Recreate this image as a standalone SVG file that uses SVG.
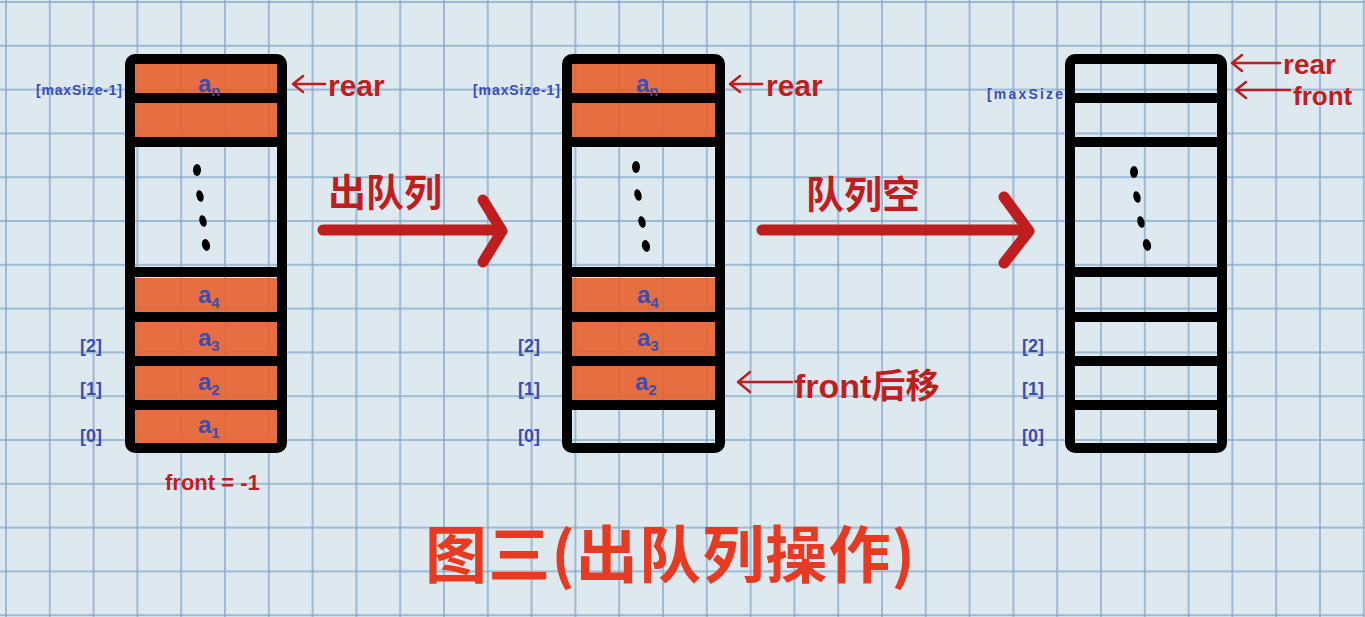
<svg xmlns="http://www.w3.org/2000/svg" width="1365" height="617" viewBox="0 0 1365 617">
<defs>
<pattern id="grid" patternUnits="userSpaceOnUse" x="-15.9" y="-19.9" width="43.8" height="43.8">
<path d="M0 21.9 H43.8 M21.9 0 V43.8" stroke="#88abcb" stroke-width="1.5" fill="none"/>
</pattern>
<style>
.frame{fill:none;stroke:#000;stroke-width:10;stroke-linejoin:round}
.div{stroke:#000;stroke-width:10}
.cell{fill:#e8602d;fill-opacity:0.9}
.dot{fill:#000}
.blue{fill:#3a4db3;font-family:"Liberation Sans",sans-serif;font-weight:bold}
.idx{font-size:18px}
.ms{font-size:14px}
.av{font-size:24px}
.sub{font-size:15px}
.red{fill:#c01d1f;font-family:"Liberation Sans","Noto Sans CJK SC",sans-serif;font-weight:bold}
.rarrow{stroke:#c01d1f;stroke-width:2.5;fill:none;stroke-linecap:round;stroke-linejoin:round}
.big{stroke:#c01d1f;stroke-width:11;fill:none;stroke-linecap:round;stroke-linejoin:round}
.title{fill:#e63b22;font-family:"Noto Sans CJK SC",sans-serif;font-size:62px;font-weight:bold}
</style>
</defs>
<rect width="1365" height="617" fill="#dde8ef"/>
<rect width="1365" height="617" fill="url(#grid)"/>

<g id="queue1">
<rect class="cell" x="135" y="64" width="142" height="29"/>
<rect class="cell" x="135" y="103" width="142" height="34"/>
<rect class="cell" x="135" y="278" width="142" height="34"/>
<rect class="cell" x="135" y="322" width="142" height="34"/>
<rect class="cell" x="135" y="366" width="142" height="34"/>
<rect class="cell" x="135" y="410" width="142" height="33"/>
<rect class="frame" x="130" y="59" width="152" height="389" rx="5"/>
<path class="div" d="M130 98H282M130 142H282M130 272H282M130 317H282M130 361H282M130 405H282"/>
<ellipse class="dot" cx="197" cy="170" rx="4" ry="6"/>
<ellipse class="dot" cx="200" cy="196" rx="3.5" ry="6" transform="rotate(-15 200 196)"/>
<ellipse class="dot" cx="203" cy="221" rx="3.5" ry="6" transform="rotate(-15 203 221)"/>
<ellipse class="dot" cx="206" cy="245" rx="4" ry="6" transform="rotate(-15 206 245)"/>
<text class="blue av" x="198" y="92">a<tspan class="sub" dy="4">n</tspan></text>
<text class="blue av" x="198" y="303">a<tspan class="sub" dy="5">4</tspan></text>
<text class="blue av" x="198" y="346">a<tspan class="sub" dy="5">3</tspan></text>
<text class="blue av" x="198" y="390">a<tspan class="sub" dy="5">2</tspan></text>
<text class="blue av" x="198" y="433">a<tspan class="sub" dy="5">1</tspan></text>
<text class="blue ms" x="36" y="95" textLength="86">[maxSize-1]</text>
<text class="blue idx" x="80" y="352">[2]</text>
<text class="blue idx" x="80" y="395">[1]</text>
<text class="blue idx" x="80" y="442">[0]</text>
<path class="rarrow" d="M325 84H293M303 76L293 84L303 92"/>
<text class="red" x="328" y="96" font-size="30">rear</text>
<text class="red" x="165" y="490" font-size="22">front = -1</text>
</g>

<g id="queue2">
<rect class="cell" x="572" y="64" width="143" height="29"/>
<rect class="cell" x="572" y="103" width="143" height="34"/>
<rect class="cell" x="572" y="278" width="143" height="34"/>
<rect class="cell" x="572" y="322" width="143" height="34"/>
<rect class="cell" x="572" y="366" width="143" height="34"/>
<rect class="frame" x="567" y="59" width="153" height="389" rx="5"/>
<path class="div" d="M567 98H720M567 142H720M567 272H720M567 317H720M567 361H720M567 405H720"/>
<ellipse class="dot" cx="636" cy="167" rx="4" ry="6"/>
<ellipse class="dot" cx="638" cy="195" rx="3.5" ry="6" transform="rotate(-15 638 195)"/>
<ellipse class="dot" cx="642" cy="222" rx="3.5" ry="6" transform="rotate(-15 642 222)"/>
<ellipse class="dot" cx="646" cy="246" rx="4" ry="6" transform="rotate(-15 646 246)"/>
<text class="blue av" x="636" y="92">a<tspan class="sub" dy="4">n</tspan></text>
<text class="blue av" x="637" y="303">a<tspan class="sub" dy="5">4</tspan></text>
<text class="blue av" x="637" y="346">a<tspan class="sub" dy="5">3</tspan></text>
<text class="blue av" x="635" y="390">a<tspan class="sub" dy="5">2</tspan></text>
<text class="blue ms" x="473" y="95" textLength="87">[maxSize-1]</text>
<text class="blue idx" x="518" y="352">[2]</text>
<text class="blue idx" x="518" y="395">[1]</text>
<text class="blue idx" x="518" y="442">[0]</text>
<path class="rarrow" d="M762 84H730M740 76L730 84L740 92"/>
<text class="red" x="766" y="96" font-size="30">rear</text>
<path class="rarrow" d="M792 382H738M750 372L738 382L750 392"/>
<text class="red" x="794" y="398" font-size="34">front后移</text>
</g>

<g id="queue3">
<rect class="frame" x="1070" y="59" width="152" height="389" rx="5"/>
<path class="div" d="M1070 98H1222M1070 142H1222M1070 272H1222M1070 317H1222M1070 361H1222M1070 405H1222"/>
<ellipse class="dot" cx="1134" cy="172" rx="4" ry="6"/>
<ellipse class="dot" cx="1137" cy="197" rx="3.5" ry="6" transform="rotate(-15 1137 197)"/>
<ellipse class="dot" cx="1141" cy="222" rx="3.5" ry="6" transform="rotate(-15 1141 222)"/>
<ellipse class="dot" cx="1147" cy="245" rx="4" ry="6" transform="rotate(-15 1147 245)"/>
<text class="blue ms" x="987" y="99" textLength="76">[maxSize</text>
<text class="blue idx" x="1022" y="352">[2]</text>
<text class="blue idx" x="1022" y="395">[1]</text>
<text class="blue idx" x="1022" y="442">[0]</text>
<path class="rarrow" d="M1280 63H1232M1242 55L1232 63L1242 71"/>
<text class="red" x="1283" y="74" font-size="28">rear</text>
<path class="rarrow" d="M1290 90H1236M1246 82L1236 90L1246 98"/>
<text class="red" x="1293" y="105" font-size="26">front</text>
</g>

<g id="connectors">
<path class="big" d="M323 230H498M483 200L502 231L483 262"/>
<path class="big" d="M762 230H1027M1004 197L1029 231L1004 263"/>
<text class="red" x="385" y="206" font-size="38" text-anchor="middle">出队列</text>
<text class="red" x="863" y="208" font-size="38" text-anchor="middle">队列空</text>
</g>

<text class="title" x="425" y="578" textLength="490">图三(出队列操作)</text>
</svg>
